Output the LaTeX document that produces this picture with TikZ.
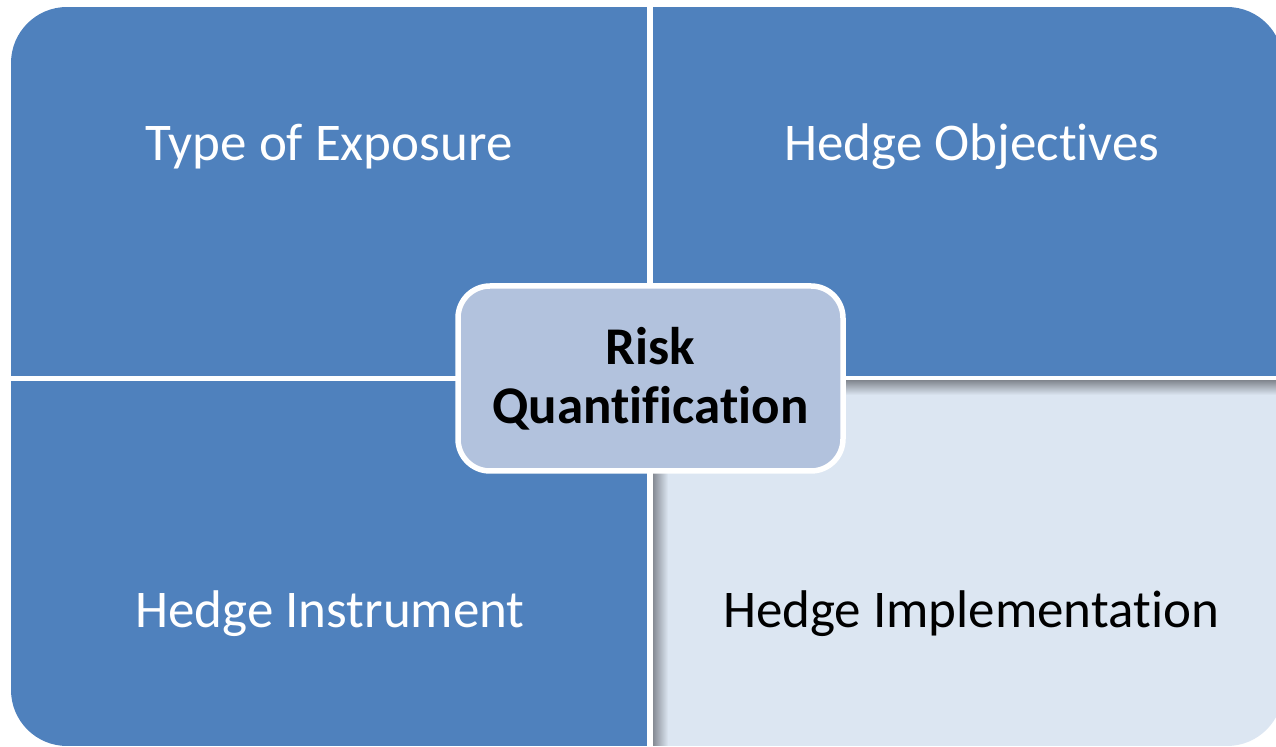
\documentclass[tikz,border=0pt]{standalone}
\usepackage{fontspec}
\setmainfont{Carlito}[Ligatures={NoCommon,NoRare,NoContextual}]
\definecolor{quadblue}{HTML}{4F81BD}
\definecolor{quadlight}{HTML}{DCE6F2}
\definecolor{centerfill}{HTML}{B2C2DD}
\definecolor{shadowgray}{HTML}{868B94}
\tikzset{every picture/.append style={x=0.5pt,y=-0.5pt}}
\tikzset{quadtext/.style={anchor=base, font=\fontsize{26.5}{31}\selectfont, text=white}}
\tikzset{centerbox/.style={draw=white, line width=2.75pt, fill=centerfill, rounded corners=16pt, minimum width=192.5pt, minimum height=92.5pt, align=center, font=\fontsize{26.5}{29.5}\selectfont\bfseries}}
\begin{document}
\begin{tikzpicture}
\useasboundingbox (0,0) rectangle (1276,747);
\fill[white] (0,0) rectangle (1276,747);
\begin{scope}
\clip[rounded corners=28pt] (11,7) rectangle (1283,746);
\fill[quadblue] (11,7) rectangle (647,376);
\fill[quadblue] (653,7) rectangle (1283,376);
\fill[quadblue] (11,381) rectangle (647,746);
\fill[quadlight] (653,381) rectangle (1283,746);
% inner shadow of the light quadrant
\shade[top color=shadowgray, bottom color=quadlight] (653,381) rectangle (1283,395);
\shade[left color=shadowgray, right color=quadlight] (653,381) -- (668,395) -- (668,746) -- (653,746) -- cycle;
\end{scope}
\node (exposure) at (329,161) [quadtext] {Type of Exposure};
\node (objectives) at (972,161) [quadtext] {Hedge Objectives};
\node (instrument) at (330,628) [quadtext] {Hedge Instrument};
\node (implementation) at (971,628) [quadtext, text=black] {Hedge Implementation};
\node (risk) at (650.5,378.5) [centerbox] {Risk\\Quantification};
\end{tikzpicture}
\end{document}
